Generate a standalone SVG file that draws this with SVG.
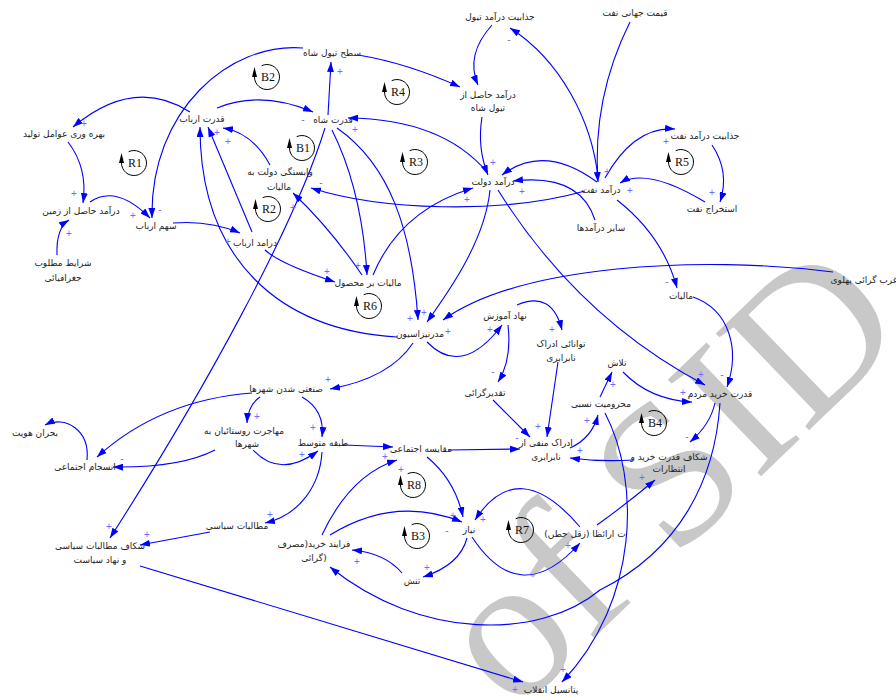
<svg xmlns="http://www.w3.org/2000/svg" width="896" height="697" viewBox="0 0 896 697">
<style>
.n text{font-family:'DejaVu Sans',sans-serif;font-size:9px;fill:#222;text-anchor:middle}
.c path{fill:none;stroke:#0000ff;stroke-width:1.1;marker-end:url(#ah)}
.s text{font-family:'Liberation Sans',sans-serif;font-size:10px;fill:#6b6bff;text-anchor:middle}
.lp text{font-family:'Liberation Serif',serif;font-size:12px;fill:#111;text-anchor:middle}
.wm{font-family:'Liberation Serif',serif;font-size:205px;fill:#c8c8c8}
</style>
<defs>
<marker id="ah" viewBox="0 0 10 10" refX="10" refY="5" markerWidth="10" markerHeight="7" markerUnits="userSpaceOnUse" orient="auto" preserveAspectRatio="none"><path d="M0,0 L10,5 L0,10 z" fill="#0000ff"/></marker>
<g id="loop"><path d="M-5.3,-11.3 A12.5,12.5 0 1 1 -12.5,0" fill="none" stroke="#000" stroke-width="1"/><path d="M-12.5,-10 L-15,0 L-10,0 Z" fill="#000"/></g>
</defs>
<rect width="896" height="697" fill="#fff"/>
<text class="wm" x="514" y="715" transform="rotate(-44 514 715)">of SID</text>

<g id="connectors" class="c">
<path d="M190,112 Q134,76 73,127"/>
<path d="M68,142 Q88,168 83,203"/>
<path d="M90,202 Q116,184 150,218"/>
<path d="M57,255 Q56,228 69,220"/>
<path d="M303,48 C230,42 150,110 152,218"/>
<path d="M217,108 Q261,90 313,112"/>
<path d="M328,115 L331,62"/>
<path d="M358,55 Q407,63 460,87"/>
<path d="M492,25 Q465,55 478,85"/>
<path d="M598,178 C592,120 560,60 510,28"/>
<path d="M482,117 Q477,148 488,175"/>
<path d="M487,172 Q442,119 348,118"/>
<path d="M630,22 Q592,98 598,182"/>
<path d="M605,178 Q634,126 675,129"/>
<path d="M712,145 Q730,172 720,202"/>
<path d="M705,202 Q647,167 620,183"/>
<path d="M597,182 Q544,143 502,175"/>
<path d="M595,220 Q580,173 513,181"/>
<path d="M585,191 C500,215 380,210 311,188"/>
<path d="M498,190 Q578,318 705,385"/>
<path d="M490,190 C485,240 450,290 427,322"/>
<path d="M373,275 Q400,210 473,188"/>
<path d="M362,275 Q330,228 293,193"/>
<path d="M270,165 Q253,133 223,128"/>
<path d="M252,232 L208,127"/>
<path d="M397,337 C280,330 200,260 200,127"/>
<path d="M173,223 Q210,220 240,233"/>
<path d="M332,130 Q362,190 367,275"/>
<path d="M337,128 C390,165 412,230 418,320"/>
<path d="M325,128 C295,225 205,390 110,538"/>
<path d="M617,200 Q663,236 677,288"/>
<path d="M693,297 C730,310 740,350 727,387"/>
<path d="M833,272 C700,255 520,265 443,320"/>
<path d="M427,342 Q462,378 502,325"/>
<path d="M517,305 Q552,290 562,330"/>
<path d="M508,325 Q512,360 498,382"/>
<path d="M493,400 L530,437"/>
<path d="M558,362 L547,437"/>
<path d="M413,343 Q390,378 330,389"/>
<path d="M260,397 Q248,405 247,423"/>
<path d="M302,397 Q325,410 322,437"/>
<path d="M253,450 Q280,479 318,451"/>
<path d="M344,445 L393,447"/>
<path d="M322,452 C320,485 300,515 265,523"/>
<path d="M210,532 L140,545"/>
<path d="M252,393 Q160,400 97,457"/>
<path d="M215,450 Q180,468 113,467"/>
<path d="M87,460 C90,430 65,415 45,425"/>
<path d="M448,450 L520,449"/>
<path d="M427,457 Q455,480 463,517"/>
<path d="M322,535 Q350,475 397,460"/>
<path d="M330,535 Q395,495 462,522"/>
<path d="M467,538 Q460,565 423,577"/>
<path d="M402,573 Q385,553 352,550"/>
<path d="M472,537 Q520,610 580,543"/>
<path d="M580,527 Q518,454 475,520"/>
<path d="M597,525 Q625,505 655,480"/>
<path d="M715,403 Q710,425 690,442"/>
<path d="M720,403 C715,480 680,550 600,590 C540,640 420,640 330,567"/>
<path d="M633,460 Q600,462 570,458"/>
<path d="M570,448 Q592,438 598,415"/>
<path d="M600,397 L612,372"/>
<path d="M623,372 Q650,400 692,402"/>
<path d="M605,413 C640,480 640,600 562,682"/>
<path d="M140,566 L523,682"/>
<path d="M265,250 Q280,264 335,282"/>
</g>

<g id="polarities" class="s">
<text x="84" y="127">+</text><text x="74" y="197">+</text><text x="133" y="219">+</text><text x="69" y="237">+</text>
<text x="160" y="213">-</text><text x="303" y="123">-</text><text x="340" y="75">+</text><text x="355" y="133">+</text>
<text x="493" y="166">+</text><text x="522" y="195">+</text><text x="467" y="203">+</text><text x="509" y="43">-</text>
<text x="607" y="175">+</text><text x="666" y="145">+</text><text x="712" y="196">+</text><text x="630" y="194">+</text>
<text x="321" y="186">-</text><text x="217" y="136">+</text><text x="228" y="145">+</text><text x="228" y="245">+</text>
<text x="293" y="211">+</text><text x="327" y="275">+</text><text x="358" y="269">+</text><text x="410" y="322">+</text>
<text x="424" y="316">+</text><text x="448" y="335">+</text><text x="490" y="333">+</text><text x="552" y="333">+</text>
<text x="493" y="375">-</text><text x="328" y="383">+</text><text x="517" y="441">-</text><text x="538" y="430">+</text>
<text x="587" y="424">+</text><text x="580" y="454">+</text><text x="613" y="388">+</text><text x="683" y="396">+</text>
<text x="701" y="378">+</text><text x="722" y="378">-</text><text x="667" y="285">-</text><text x="687" y="440">-</text>
<text x="257" y="420">+</text><text x="313" y="431">+</text><text x="302" y="458">+</text><text x="385" y="460">+</text>
<text x="401" y="473">+</text><text x="270" y="518">+</text><text x="147" y="538">+</text><text x="109" y="530">+</text>
<text x="122" y="462">-</text><text x="453" y="519">+</text><text x="447" y="534">-</text><text x="483" y="523">+</text>
<text x="427" y="571">+</text><text x="357" y="565">+</text><text x="568" y="549">+</text><text x="642" y="481">+</text>
<text x="563" y="673">+</text><text x="515" y="693">+</text>
</g>

<g id="loops" class="lp">
<g id="loop-B2"><use href="#loop" x="267" y="77"/><text x="268" y="81">B2</text></g>
<g id="loop-R1"><use href="#loop" x="134" y="163"/><text x="135" y="167">R1</text></g>
<g id="loop-B1"><use href="#loop" x="302" y="148"/><text x="303" y="152">B1</text></g>
<g id="loop-R4"><use href="#loop" x="397" y="92"/><text x="398" y="96">R4</text></g>
<g id="loop-R3"><use href="#loop" x="415" y="162"/><text x="416" y="166">R3</text></g>
<g id="loop-R5"><use href="#loop" x="681" y="162"/><text x="682" y="166">R5</text></g>
<g id="loop-R2"><use href="#loop" x="268" y="209"/><text x="269" y="213">R2</text></g>
<g id="loop-R6"><use href="#loop" x="369" y="306"/><text x="370" y="310">R6</text></g>
<g id="loop-B4"><use href="#loop" x="654" y="423"/><text x="655" y="427">B4</text></g>
<g id="loop-R8"><use href="#loop" x="413" y="485"/><text x="414" y="489">R8</text></g>
<g id="loop-B3"><use href="#loop" x="417" y="536"/><text x="418" y="540">B3</text></g>
<g id="loop-R7"><use href="#loop" x="521" y="530"/><text x="522" y="534">R7</text></g>
</g>

<g id="nodes" class="n">
<g id="n1"><text x="500" y="20">جذابیت درآمد تیول</text></g>
<g id="n2"><text x="635" y="16">قیمت جهانی نفت</text></g>
<g id="n3"><text x="332" y="56">سطح تیول شاه</text></g>
<g id="n4"><text x="488" y="98">درآمد حاصل از</text><text x="488" y="111">تیول شاه</text></g>
<g id="n5"><text x="202" y="122">قدرت ارباب</text></g>
<g id="n6"><text x="64" y="137">بهره وری عوامل تولید</text></g>
<g id="n7"><text x="333" y="123">قدرت شاه</text></g>
<g id="n8"><text x="705" y="139">جذابیت درآمد نفت</text></g>
<g id="n9"><text x="280" y="175">وابستگی دولت به</text><text x="279" y="190">مالیات</text></g>
<g id="n10"><text x="493" y="185">درآمد دولت</text></g>
<g id="n11"><text x="601" y="193">درآمد نفت</text></g>
<g id="n12"><text x="81" y="214">درآمد حاصل از زمین</text></g>
<g id="n13"><text x="156" y="229">سهم ارباب</text></g>
<g id="n14"><text x="601" y="231">سایر درآمدها</text></g>
<g id="n15"><text x="255" y="246">درامد ارباب</text></g>
<g id="n16"><text x="712" y="212">استخراج نفت</text></g>
<g id="n17"><text x="63" y="266">شرایط مطلوب</text><text x="63" y="281">جغرافیائی</text></g>
<g id="n18"><text x="368" y="286">مالیات بر محصول</text></g>
<g id="n19"><text x="864" y="283">غرب گرائی پهلوی</text></g>
<g id="n20"><text x="681" y="299">مالیات</text></g>
<g id="n21"><text x="420" y="337">مدرنیزاسیون</text></g>
<g id="n22"><text x="505" y="319">نهاد آموزش</text></g>
<g id="n23"><text x="561" y="347">توانائی ادراک</text><text x="561" y="361">نابرابری</text></g>
<g id="n24"><text x="485" y="396">تقدیرگرائی</text></g>
<g id="n25"><text x="286" y="392">صنعتی شدن شهرها</text></g>
<g id="n26"><text x="617" y="366">تلاش</text></g>
<g id="n27"><text x="720" y="397">قدرت خرید مردم</text></g>
<g id="n28"><text x="601" y="407">محرومیت نسبی</text></g>
<g id="n29"><text x="244" y="434">مهاجرت روستائیان به</text><text x="247" y="447">شهرها</text></g>
<g id="n30"><text x="323" y="446">طبقه متوسط</text></g>
<g id="n31"><text x="421" y="452">مقایسه اجتماعی</text></g>
<g id="n32"><text x="546" y="446">ادراک منفی از</text><text x="546" y="460">نابرابری</text></g>
<g id="n33"><text x="669" y="460">شکاف قدرت خرید و</text><text x="669" y="472">انتظارات</text></g>
<g id="n34"><text x="35" y="436">بحران هویت</text></g>
<g id="n35"><text x="85" y="470">انسجام اجتماعی</text></g>
<g id="n36"><text x="237" y="529">مطالبات سیاسی</text></g>
<g id="n37"><text x="100" y="549">شکاف مطالبات سیاسی</text><text x="100" y="563">و نهاد سیاست</text></g>
<g id="n38"><text x="314" y="547">فرایند خرید(مصرف</text><text x="314" y="561">گرائی)</text></g>
<g id="n39"><text x="469" y="533">نیاز</text></g>
<g id="n40"><text x="412" y="584">تنش</text></g>
<g id="n41"><text x="585" y="537" direction="rtl">ت ارائظا (زقل جطں)</text></g>
<g id="n42"><text x="551" y="693">پتانسیل انقلاب</text></g>
</g>
</svg>
